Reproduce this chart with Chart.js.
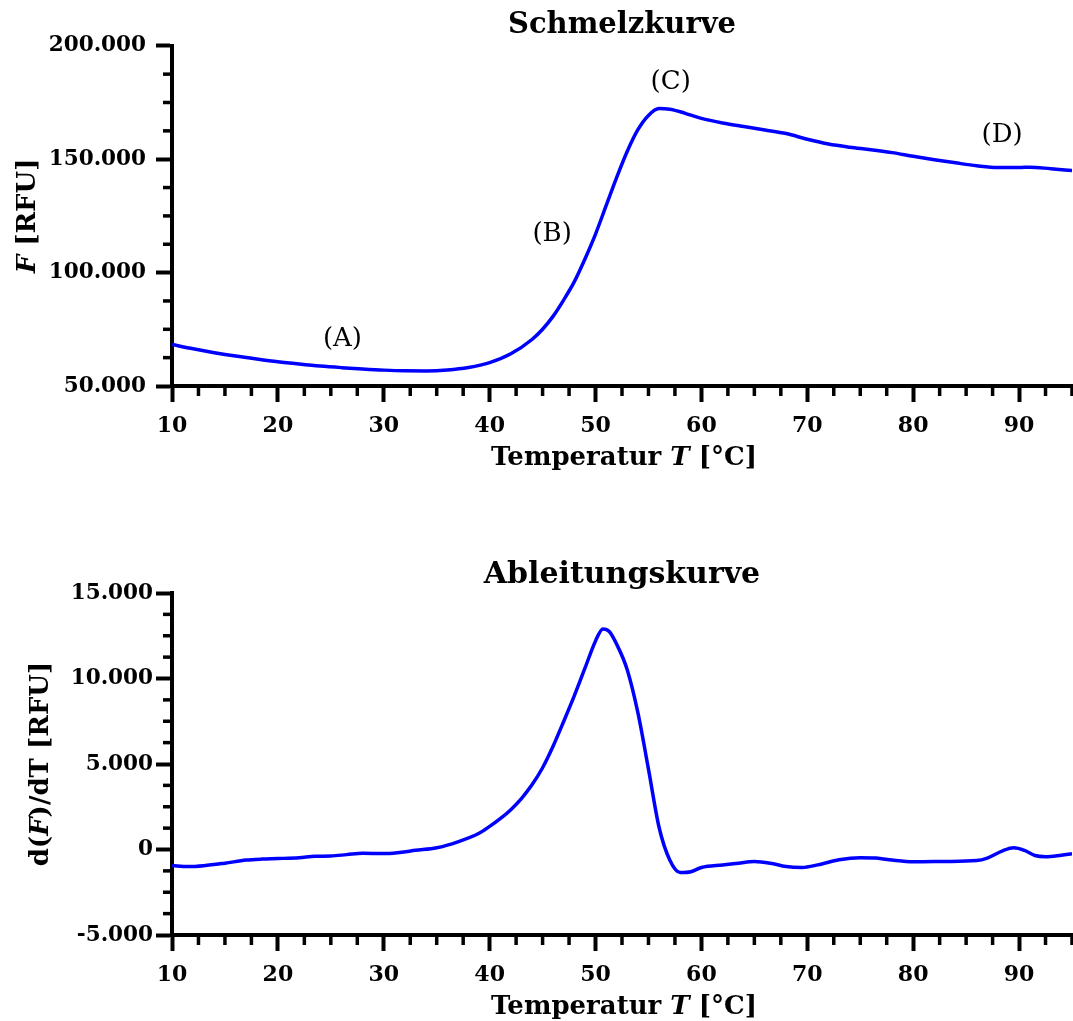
<!DOCTYPE html>
<html>
<head>
<meta charset="utf-8">
<script src="https://cdn.jsdelivr.net/npm/chart.js@4.4.1/dist/chart.umd.min.js"></script>
<style>
  html, body { margin:0; padding:0; background:#fff; }
  #c1 { position:absolute; left:0; top:0; }
  #c2 { position:absolute; left:0; top:490px; }
</style>
</head>
<body>
<canvas id="c1" width="1073" height="490"></canvas>
<canvas id="c2" width="1073" height="531"></canvas>
<script>
// ---------- data ----------
const meltTemp = [10,12,14,16,18,20,22,24,26,28,30,32,34,36,38,40,42,44,45,46,47,48,49,50,51,52,53,54,55,56,57,58,59,60,62,64,66,68,70,72,74,76,78,80,82,84,86,88,90,91,93,95];
const meltF    = [68300,66400,64700,63200,61900,60700,59700,58800,58100,57500,57000,56700,56650,57050,58150,60300,64200,70500,75000,80800,88000,96000,106000,117000,129500,142000,153500,163000,169300,172300,172000,170900,169400,168000,166000,164400,162900,161300,158800,156700,155300,154200,152900,151300,149800,148400,147100,146300,146300,146500,145800,145000];

const derivTemp = [10,11.5,13,15,17,18.5,20,22,23.5,25,26.5,28,30,31.5,33,35,37,39,40,41,42,43,44,45,46,47,48,49,50,50.7,51.3,52,53,54,55,56,57,58,59,60,62,63.5,65,66.5,68,69.5,71,73,75,76.5,78,80,83,86,87,88.5,89.5,90.5,91.5,92.5,94,95];
const derivF    = [-930,-1000,-950,-800,-620,-560,-530,-480,-400,-380,-300,-220,-240,-170,-50,100,450,950,1350,1800,2330,2980,3780,4780,6050,7500,9000,10600,12200,12900,12750,12000,10500,8000,4700,1300,-600,-1350,-1300,-1050,-900,-800,-700,-800,-1000,-1050,-900,-600,-480,-500,-620,-720,-700,-650,-500,-60,100,-50,-350,-420,-330,-250];

const annoLabels = ['(A)','(B)','(C)','(D)'];
const annoT      = [26.1, 45.9, 57.1, 88.4];
const annoF      = [70700, 117000, 184000, 160500];

const xTicksMajor = 10;
const xTicksMinor = 2.5;
const yMajorTop = 50000, yMinorTop = 12500;
const yMajorBot = 5000,  yMinorBot = 1250;

// ---------- helpers ----------
const FONT = "'DejaVu Serif', 'Liberation Serif', serif";
function fmt(v){
  if (v === 0) return '0';
  const s = String(Math.abs(Math.round(v))).replace(/\B(?=(\d{3})+(?!\d))/g, '.');
  return (v < 0 ? '-' : '') + s;
}
function toXY(xs, ys){ return xs.map((x,i)=>({x:x, y:ys[i]})); }

const minorTicks = {
  id:'minorTicks',
  afterDraw(chart, args, opts){
    const ctx = chart.ctx, xs = chart.scales.x, ys = chart.scales.y, a = chart.chartArea;
    ctx.save();
    ctx.strokeStyle = '#000';
    ctx.lineWidth = 3.5;
    ctx.lineCap = 'butt';
    for (let v = xs.min; v <= xs.max + 1e-9; v += opts.xMinor){
      if (Math.abs(v/opts.xMajor - Math.round(v/opts.xMajor)) < 1e-6) continue;
      const px = xs.getPixelForValue(v);
      ctx.beginPath(); ctx.moveTo(px, a.bottom); ctx.lineTo(px, a.bottom + 10); ctx.stroke();
    }
    for (let v = ys.min; v <= ys.max + 1e-9; v += opts.yMinor){
      if (Math.abs(v/opts.yMajor - Math.round(v/opts.yMajor)) < 1e-6) continue;
      const py = ys.getPixelForValue(v);
      ctx.beginPath(); ctx.moveTo(a.left, py); ctx.lineTo(a.left - 9, py); ctx.stroke();
    }
    ctx.restore();
  }
};

function measureParts(ctx, parts, size){
  let w = 0;
  const widths = parts.map(p=>{
    ctx.font = (p[1]?'italic ':'') + 'bold ' + size + 'px ' + FONT;
    const m = ctx.measureText(p[0]).width; w += m; return m;
  });
  return {w, widths};
}

const axisTitles = {
  id:'axisTitles',
  afterDraw(chart, args, opts){
    const ctx = chart.ctx, a = chart.chartArea;
    ctx.save();
    ctx.fillStyle = '#000';
    ctx.textBaseline = 'alphabetic';
    ctx.textAlign = 'left';
    // x title
    let m = measureParts(ctx, opts.xParts, opts.xSize);
    let x = (a.left + a.right)/2 - m.w/2 + 2;
    const y = a.bottom + opts.xOffset;
    opts.xParts.forEach((p,i)=>{
      ctx.font = (p[1]?'italic ':'') + 'bold ' + opts.xSize + 'px ' + FONT;
      ctx.fillText(p[0], x, y); x += m.widths[i];
    });
    // y title (rotated)
    m = measureParts(ctx, opts.yParts, opts.ySize);
    ctx.translate(opts.yX, (a.top + a.bottom)/2);
    ctx.rotate(-Math.PI/2);
    ctx.textBaseline = 'middle';
    let yx = -m.w/2;
    opts.yParts.forEach((p,i)=>{
      ctx.font = (p[1]?'italic ':'') + 'bold ' + opts.ySize + 'px ' + FONT;
      ctx.fillText(p[0], yx, 0); yx += m.widths[i];
    });
    ctx.restore();
  }
};

const annotations = {
  id:'annotations',
  afterDatasetsDraw(chart, args, opts){
    if (!opts.labels) return;
    const ctx = chart.ctx, xs = chart.scales.x, ys = chart.scales.y;
    ctx.save();
    ctx.fillStyle = '#000';
    ctx.font = opts.size + 'px ' + FONT;
    ctx.textAlign = 'center';
    ctx.textBaseline = 'middle';
    opts.labels.forEach((t,i)=>{
      ctx.fillText(t, xs.getPixelForValue(opts.xs[i]), ys.getPixelForValue(opts.ys[i]));
    });
    ctx.restore();
  }
};

function makeChart(id, cfg){
  return new Chart(document.getElementById(id), {
    type:'line',
    data:{ datasets:[{
      data: toXY(cfg.xs, cfg.ys),
      borderColor:'#0000ff', borderWidth:3.5, pointRadius:0,
      cubicInterpolationMode:'monotone', fill:false
    }]},
    plugins:[minorTicks, axisTitles, annotations],
    options:{
      responsive:false, animation:false,
      layout:{ padding:{ left:0, right:1, top:cfg.padTop, bottom:0 } },
      plugins:{
        legend:{display:false}, tooltip:{enabled:false},
        title:{ display:true, text:cfg.title, fullSize:false, color:'#000',
          font:{ family:FONT, weight:'bold', size:cfg.titleSize }, padding:{ top:cfg.titleTop, bottom:cfg.titleBottom } },
        minorTicks:{ xMajor:xTicksMajor, xMinor:xTicksMinor, yMajor:cfg.yMajor, yMinor:cfg.yMinor },
        axisTitles:{ xParts:[['Temperatur ',false],['T',true],[' [°C]',false]], xSize:26, xOffset:79,
                     yParts:cfg.yParts, ySize:26, yX:cfg.yTitleX },
        annotations: cfg.anno || {}
      },
      scales:{
        x:{ type:'linear', min:10, max:95,
          ticks:{ stepSize:xTicksMajor, includeBounds:false, color:'#000', padding:11,
            font:{ family:FONT, weight:'bold', size:22 }, maxRotation:0 },
          grid:{ drawOnChartArea:false, drawTicks:true, tickLength:16, tickWidth:4, color:'#000' },
          border:{ display:true, width:4, color:'#000' },
          afterFit(s){ s.height = cfg.xHeight; }
        },
        y:{ type:'linear', min:cfg.yMin, max:cfg.yMax,
          ticks:{ stepSize:cfg.yMajor, includeBounds:false, color:'#000', padding:cfg.yPad,
            font:{ family:FONT, weight:'bold', size:21.5 }, callback:(v)=>fmt(v) },
          grid:{ drawOnChartArea:false, drawTicks:true, tickLength:16, tickWidth:4, color:'#000' },
          border:{ display:true, width:4, color:'#000' },
          afterFit(s){ s.width = 172; }
        }
      }
    }
  });
}

makeChart('c1', {
  xs:meltTemp, ys:meltF, title:'Schmelzkurve', titleSize:29,
  yMin:50000, yMax:200000, yMajor:yMajorTop, yMinor:yMinorTop, yPad:10,
  padTop:0, titleTop:8, titleBottom:3, xHeight:104,
  yParts:[['F',true],[' [RFU]',false]], yTitleX:28,
  anno:{ labels:annoLabels, xs:annoT, ys:annoF, size:26 }
});

makeChart('c2', {
  xs:derivTemp, ys:derivF, title:'Ableitungskurve', titleSize:30,
  yMin:-5000, yMax:15000, yMajor:yMajorBot, yMinor:yMinorBot, yPad:3,
  padTop:57, titleTop:10, titleBottom:0, xHeight:86,
  yParts:[['d(',false],['F',true],[')/dT [RFU]',false]], yTitleX:41
});
</script>
</body>
</html>
